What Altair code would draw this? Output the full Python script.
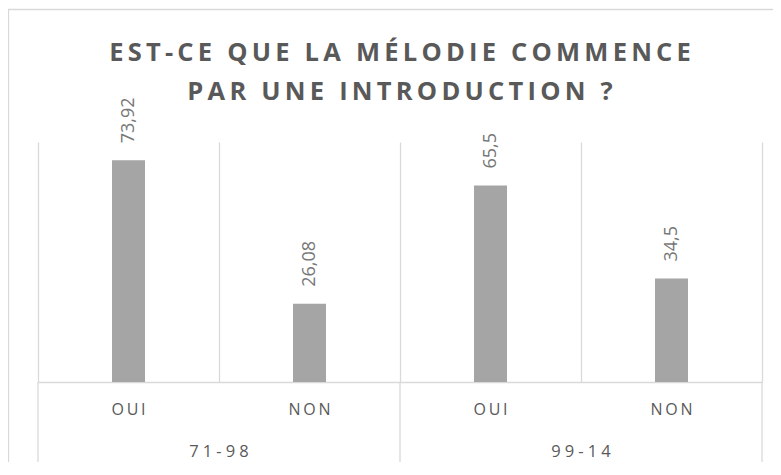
import altair as alt
import pandas as pd

# ---- data ----
groups = ["71-98", "71-98", "99-14", "99-14"]
answers = ["OUI", "NON", "OUI", "NON"]
values = [73.92, 26.08, 65.5, 34.5]
value_labels = ["73,92", "26,08", "65,5", "34,5"]
title_lines = ["EST-CE QUE LA MÉLODIE COMMENCE", "PAR UNE INTRODUCTION ?"]

THIN = "\u2009"
FOUR_PER_EM = "\u2005"


def spaced(s, sep=THIN):
    return sep.join(list(s))


keys = [g + "|" + a for g, a in zip(groups, answers)]
df = pd.DataFrame({
    "key": keys,
    "group": groups,
    "answer": answers,
    "value": values,
    "label": value_labels,
    "answer_sp": [spaced(a) for a in answers],
    "group_sp": [spaced(g, FOUR_PER_EM) for g in groups],
})

GRID = "#d9d9d9"
TXT = "#595959"
W, H = 724, 240

x_scale = alt.Scale(domain=keys, paddingInner=0, paddingOuter=0)
y_scale = alt.Scale(domain=[0, 80])

base = alt.Chart(df)

bars = base.mark_bar(color="#a5a5a5", size=33).encode(
    x=alt.X("key:N", scale=x_scale, sort=keys,
            axis=alt.Axis(title=None, labels=False, ticks=False, grid=True,
                          tickBand="extent", gridColor=GRID, gridWidth=1.3,
                          domain=True, domainColor=GRID, domainWidth=1.6)),
    y=alt.Y("value:Q", scale=y_scale, axis=None),
)

vals = base.mark_text(angle=270, align="left", baseline="middle", dx=17,
                      fontSize=18, font="Open Sans", color="#767676").encode(
    x=alt.X("key:N", scale=x_scale, sort=keys),
    y=alt.Y("value:Q", scale=y_scale),
    text="label:N",
)

ans_lbl = base.mark_text(baseline="middle", fontSize=16, font="Open Sans",
                         color=TXT).encode(
    x=alt.X("key:N", scale=x_scale, sort=keys),
    y=alt.value(268),
    text="answer_sp:N",
)

grp_lbl = base.transform_filter(alt.datum.answer == answers[1]).mark_text(
    baseline="middle", fontSize=16.5, font="Open Sans", color=TXT).encode(
    x=alt.X("key:N", scale=x_scale, sort=keys, bandPosition=0),
    y=alt.value(310),
    text="group_sp:N",
)

rule_left = base.transform_filter(alt.datum.answer == answers[0]).mark_rule(
    color=GRID, strokeWidth=1.3).encode(
    x=alt.X("key:N", scale=x_scale, sort=keys, bandPosition=0),
    y=alt.value(240), y2=alt.value(323),
)

rule_right = base.transform_filter(alt.datum.key == keys[-1]).mark_rule(
    color=GRID, strokeWidth=1.3).encode(
    x=alt.X("key:N", scale=x_scale, sort=keys, bandPosition=1),
    y=alt.value(240), y2=alt.value(323),
)

one = alt.Chart(alt.Data(values=[{"f": 0}]))

frame = one.mark_rect(fill=None, stroke=GRID, strokeWidth=1.3).encode(
    x=alt.value(-29.5), x2=alt.value(790),
    y=alt.value(-132.5), y2=alt.value(400),
)

title = one.mark_text(align="center", baseline="alphabetic", fontSize=25.5,
                      font="Open Sans", fontWeight="bold", color=TXT,
                      lineHeight=39).encode(
    x=alt.value(W / 2),
    y=alt.value(-81),
    text=alt.value([spaced(t) for t in title_lines]),
)

chart = alt.layer(frame, bars, vals, rule_left, rule_right, ans_lbl, grp_lbl,
                  title).properties(
    width=W, height=H,
    autosize=alt.AutoSizeParams(type="none"),
    padding={"left": 30, "top": 134, "right": 11, "bottom": 80},
).configure(background="white").configure_view(stroke=None)

chart.save("out.html", embed_options={"renderer": "svg", "actions": False})
